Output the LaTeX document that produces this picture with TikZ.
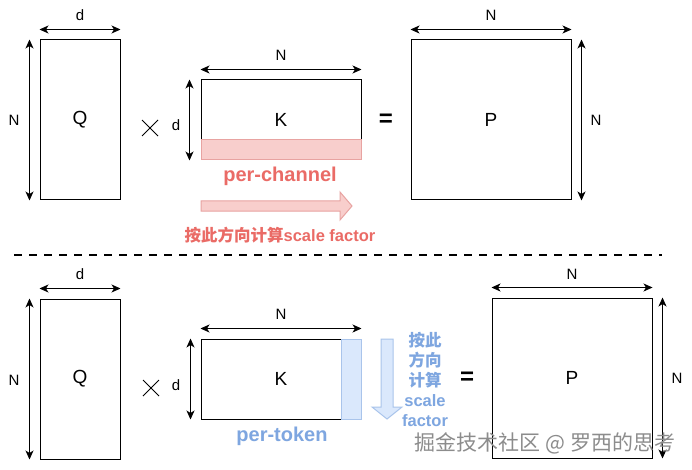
\documentclass[tikz,border=0pt]{standalone}
\usepackage{fontspec}
\setmainfont{Liberation Sans}
\newfontfamily\cjk{Noto Sans CJK SC}
\usetikzlibrary{arrows.meta,shapes.misc}
\definecolor{redtxt}{HTML}{EA6B66}
\definecolor{pinkfill}{HTML}{F8CECC}
\definecolor{pinkstroke}{HTML}{E8A3A1}
\definecolor{bluetxt}{HTML}{7EA6E0}
\definecolor{bluefill}{HTML}{DAE8FC}
\definecolor{bluestroke}{HTML}{A9C4EB}
\definecolor{wmark}{HTML}{8C8C8C}
\begin{document}
\begin{tikzpicture}[x=1pt,y=-1pt,
  mat/.style={draw=black, line width=1pt, fill=white, inner sep=0pt, font=\fontsize{19}{22}\selectfont},
  dim/.style={line width=1pt, {Stealth[length=9pt,width=8pt,inset=2.5pt]}-{Stealth[length=9pt,width=8pt,inset=2.5pt]}},
  dimlab/.style={inner sep=0pt, font=\fontsize{15}{18}\selectfont},
  opsym/.style={cross out, draw=black, line width=1pt, inner sep=0pt, minimum width=15pt, minimum height=15pt},
  eqsym/.style={inner sep=0pt, font=\bfseries\fontsize{24}{28}\selectfont},
  redlab/.style={inner sep=0pt, text=redtxt, font=\bfseries\fontsize{20}{22}\selectfont},
  bluelab/.style={inner sep=0pt, text=bluetxt, font=\bfseries\fontsize{20}{22}\selectfont},
  note/.style={inner sep=0pt, font=\bfseries\fontsize{16.5}{20}\selectfont}
]
\useasboundingbox (0,0) rectangle (692,470);
\fill[white] (0,0) rectangle (692,470);

% ================= TOP =================
\node[mat, minimum width=80pt, minimum height=160pt] (Q1) at (80,120) {Q};
\draw[dim] ([yshift=10pt]Q1.north west) -- ([yshift=10pt]Q1.north east);
\node[dimlab] (Q1d) at (80,15) {d};
\draw[dim] ([xshift=-10pt]Q1.north west) -- ([xshift=-10pt]Q1.south west);
\node[dimlab] (Q1N) at (14,120) {N};

\node[opsym] (x1) at (150,128) {};

\node[mat, minimum width=160pt, minimum height=80pt] (K1) at (281,120) {K};
\node[draw=pinkstroke, fill=pinkfill, line width=1pt, inner sep=0pt, minimum width=160pt, minimum height=20pt] (B1) at (281,150) {};
\draw[dim] ([yshift=10pt]K1.north west) -- ([yshift=10pt]K1.north east);
\node[dimlab] (K1N) at (281,55) {N};
\draw[dim] ([xshift=-11pt]K1.north west) -- ([xshift=-11pt]K1.south west);
\node[dimlab] (K1d) at (176,125) {d};

\node[redlab] (pc) at (280,176) {per-channel};
\coordinate (ra) at (201,201);
\draw[draw=pinkstroke, fill=pinkfill, line width=1pt]
  (ra) -- (340,201) -- (340,192) -- (352,206) -- (340,220) -- (340,211) -- (201,211) -- cycle;
\node[note, text=redtxt] (rt) at (280,235) {{\cjk\bfseries 按此方向计算}scale factor};

\node[eqsym] (eq1) at (386,120) {=};

\node[mat, minimum width=160pt, minimum height=160pt] (P1) at (491,120) {P};
\draw[dim] ([yshift=10pt]P1.north west) -- ([yshift=10pt]P1.north east);
\node[dimlab] (P1N) at (491,15) {N};
\draw[dim] ([xshift=10pt]P1.north east) -- ([xshift=10pt]P1.south east);
\node[dimlab] (P1Nr) at (596,120) {N};

% ================= SEPARATOR =================
\coordinate (s1) at (14,255);
\coordinate (s2) at (662,255);
\draw[line width=1.5pt, dash pattern=on 8pt off 7pt] (s1) -- (s2);

% ================= BOTTOM =================
\node[mat, minimum width=80pt, minimum height=160pt] (Q2) at (80,379) {Q};
\draw[dim] ([yshift=10pt]Q2.north west) -- ([yshift=10pt]Q2.north east);
\node[dimlab] (Q2d) at (80,274) {d};
\draw[dim] ([xshift=-10pt]Q2.north west) -- ([xshift=-10pt]Q2.south west);
\node[dimlab] (Q2N) at (14,380) {N};

\node[opsym] (x2) at (151,388) {};

\node[mat, minimum width=160pt, minimum height=80pt] (K2) at (281,379) {K};
\node[draw=bluestroke, fill=bluefill, line width=1pt, inner sep=0pt, minimum width=20pt, minimum height=80pt] (B2) at (351,379) {};
\draw[dim] ([yshift=10pt]K2.north west) -- ([yshift=10pt]K2.north east);
\node[dimlab] (K2N) at (281,314) {N};
\draw[dim] ([xshift=-10pt]K2.north west) -- ([xshift=-10pt]K2.south west);
\node[dimlab] (K2d) at (176,385) {d};

\node[bluelab] (pt) at (282,436) {per-token};
\draw[draw=bluestroke, fill=bluefill, line width=1pt]
  (381,339) -- (393,339) -- (393,407) -- (402,407) -- (387,419) -- (372,407) -- (381,407) -- cycle;
\node[note, text=bluetxt, align=center] (bt) at (425,379)
  {{\cjk\bfseries 按此}\\{\cjk\bfseries 方向}\\{\cjk\bfseries 计算}\\scale\\factor};

\node[eqsym] (eq2) at (467,378) {=};

\node[mat, minimum width=160pt, minimum height=160pt] (P2) at (572,378) {P};
\draw[dim] ([yshift=10pt]P2.north west) -- ([yshift=10pt]P2.north east);
\node[dimlab] (P2N) at (572,274) {N};
\draw[dim] ([xshift=10pt]P2.north east) -- ([xshift=10pt]P2.south east);
\node[dimlab] (P2Nr) at (677,378) {N};

\node[inner sep=0pt, text=wmark, font=\cjk\fontsize{21}{24}\selectfont] (wm) at (545,443) {掘金技术社区 @ 罗西的思考};
\end{tikzpicture}
\end{document}
